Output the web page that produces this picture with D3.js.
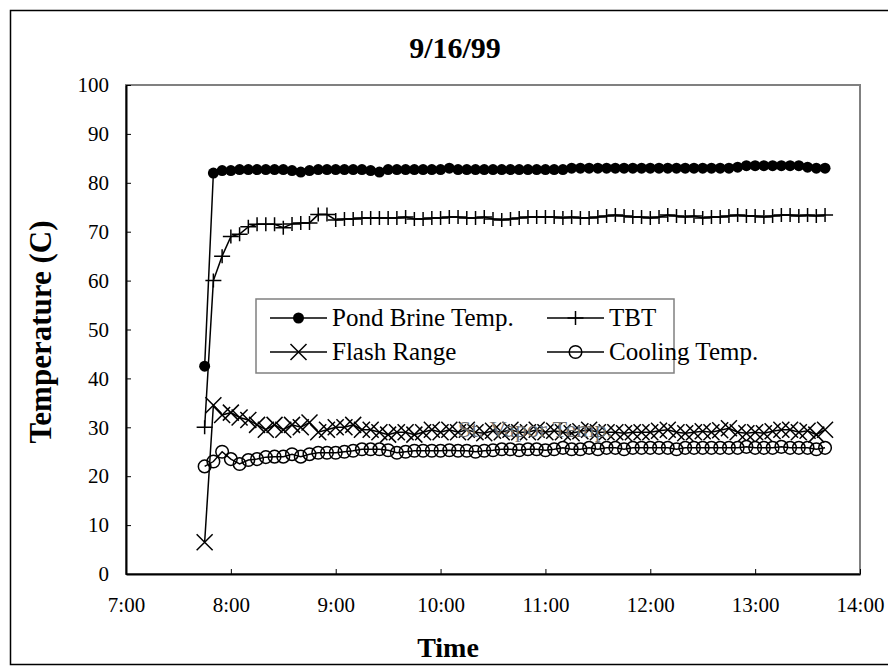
<!DOCTYPE html>
<html>
<head>
<meta charset="utf-8">
<script src="https://cdn.jsdelivr.net/npm/d3@7"></script>
<style>
  body { margin: 0; background: #fff; }
  svg text { font-family: "Liberation Serif", "Times New Roman", serif; fill: #000; }
</style>
</head>
<body>
<svg class="chart" width="888" height="671"></svg>
<script>
// ---- Data ----
const times = [
  "7:45","7:50","7:55","8:00","8:05","8:10","8:15","8:20","8:25","8:30","8:35","8:40",
  "8:45","8:50","8:55","9:00","9:05","9:10","9:15","9:20","9:25","9:30","9:35","9:40",
  "9:45","9:50","9:55","10:00","10:05","10:10","10:15","10:20","10:25","10:30","10:35","10:40",
  "10:45","10:50","10:55","11:00","11:05","11:10","11:15","11:20","11:25","11:30","11:35","11:40",
  "11:45","11:50","11:55","12:00","12:05","12:10","12:15","12:20","12:25","12:30","12:35","12:40",
  "12:45","12:50","12:55","13:00","13:05","13:10","13:15","13:20","13:25","13:30","13:35","13:40"
];
const pondBrine = [
  42.5,82,82.5,82.5,82.7,82.7,82.7,82.7,82.7,82.7,82.5,82.2,
  82.5,82.7,82.7,82.7,82.7,82.7,82.7,82.5,82.2,82.7,82.7,82.7,
  82.7,82.7,82.7,82.7,83,82.7,82.7,82.7,82.7,82.7,82.7,82.7,
  82.7,82.7,82.7,82.7,82.7,82.7,83,83,83,83,83,83,
  83,83,83,83,83,83,83,83,83,83,83,83,
  83,83.2,83.5,83.5,83.5,83.5,83.5,83.5,83.5,83.2,83,83
];
const tbt = [
  30,60,65,69,69.5,71,71.5,71.5,71.5,70.8,71.6,71.8,
  71.8,73.5,73.5,72.4,72.6,72.6,72.8,72.8,72.8,72.8,72.8,73,
  72.6,72.6,72.8,72.8,73,73,72.8,72.8,73,72.6,72.4,72.6,
  72.8,73,73,73,73,72.8,73,72.8,72.8,73,73.2,73.4,
  73.2,73,73,72.8,73,73.4,73.2,73,73.2,72.8,73,73,
  73.2,73.4,73.2,73.2,73,73.2,73.4,73.4,73.2,73.4,73.2,73.4
];
const flashRange = [
  6.5,34.5,32.5,33,32,31.5,30.5,29.5,30.5,29.5,30.5,30,
  31,29,29.5,30,30,30.5,29.5,29.5,29,28.5,29,29,
  28.5,29,29.5,29,29.5,29,29.5,29,28.8,29.3,29,29.5,
  29,29,29.5,29,29.3,29,28.8,29.2,29.5,29,29,29,
  28.8,29,29,29,29.3,29.5,29,28.8,29,29.2,29,29.4,
  29.8,29,28.8,29,28.8,29.2,29.5,29.5,29,29.3,28.5,29.5
];
const cooling = [
  22,23,25,23.5,22.5,23.3,23.5,23.9,24,24,24.5,24,
  24.5,24.8,24.8,24.8,25,25.2,25.5,25.5,25.5,25.3,24.8,25,
  25.2,25.2,25.2,25.2,25.3,25.2,25.2,25,25.2,25.3,25.5,25.5,
  25.3,25.5,25.5,25.3,25.5,25.8,25.5,25.5,25.8,25.5,25.8,25.8,
  25.5,25.8,25.8,25.8,25.8,25.8,25.5,25.8,25.8,25.8,25.8,25.8,
  25.8,25.8,26,25.8,25.8,25.8,26,25.8,25.8,25.8,25.5,25.8
];
const xTickLabels = ["7:00","8:00","9:00","10:00","11:00","12:00","13:00","14:00"];
const yTicks = [0,10,20,30,40,50,60,70,80,90,100];

const series = [
  {name: "Pond Brine Temp.", values: pondBrine, marker: "dot"},
  {name: "TBT", values: tbt, marker: "plus"},
  {name: "Flash Range", values: flashRange, marker: "cross"},
  {name: "Cooling Temp.", values: cooling, marker: "circle"}
];

// ---- Layout ----
const svg = d3.select("svg.chart");
const plot = {left: 126, top: 85, right: 860, bottom: 574};
const toMin = s => { const [h, m] = s.split(":").map(Number); return h * 60 + m; };

const x = d3.scaleLinear().domain([toMin("7:00"), toMin("14:00")]).range([plot.left, plot.right]);
const y = d3.scaleLinear().domain([0, 100]).range([plot.bottom, plot.top]);

// chart frame
svg.append("rect")
    .attr("x", 10.5).attr("y", 10.5)
    .attr("width", 900).attr("height", 654)
    .attr("fill", "none").attr("stroke", "#000").attr("stroke-width", 1.5);

// plot area border (grey)
svg.append("rect")
    .attr("x", plot.left).attr("y", plot.top)
    .attr("width", plot.right - plot.left).attr("height", plot.bottom - plot.top)
    .attr("fill", "none").attr("stroke", "#808080").attr("stroke-width", 2);

svg.append("text")
    .attr("x", 455).attr("y", 58)
    .attr("text-anchor", "middle")
    .attr("font-size", 30).attr("font-weight", "bold")
    .text("9/16/99");

// axes, ticks point inward
const yAxis = svg.append("g")
    .attr("transform", `translate(${plot.left},0)`)
    .call(d3.axisLeft(y).tickValues(yTicks).tickSizeInner(-5).tickSizeOuter(0).tickPadding(17));
const xAxis = svg.append("g")
    .attr("transform", `translate(0,${plot.bottom})`)
    .call(d3.axisBottom(x)
        .tickValues(xTickLabels.map(toMin))
        .tickFormat((d, i) => xTickLabels[i])
        .tickSizeInner(-5).tickSizeOuter(0).tickPadding(23));
[yAxis, xAxis].forEach(a => {
    a.attr("font-family", null);
    a.select(".domain").attr("stroke", "#000").attr("stroke-width", 2);
    a.selectAll(".tick line").attr("stroke", "#000").attr("stroke-width", 1);
    a.selectAll(".tick text").attr("font-size", 21);
});

svg.append("text")
    .attr("x", 448).attr("y", 657)
    .attr("text-anchor", "middle")
    .attr("font-size", 28).attr("font-weight", "bold")
    .text("Time");
svg.append("text")
    .attr("transform", "translate(51,332) rotate(-90)")
    .attr("text-anchor", "middle")
    .attr("font-size", 31).attr("font-weight", "bold")
    .text("Temperature (C)");

// ---- Markers ----
function drawMarker(g, kind) {
    if (kind === "dot")
        g.append("circle").attr("r", 5.5).attr("fill", "#000");
    else if (kind === "circle")
        g.append("circle").attr("r", 6.3).attr("fill", "none").attr("stroke", "#000").attr("stroke-width", 1.5);
    else if (kind === "plus")
        g.append("path").attr("d", "M-8,0H8M0,-7V7").attr("stroke", "#000").attr("stroke-width", 1.5);
    else if (kind === "cross")
        g.append("path").attr("d", "M-8,-8L8,8M-8,8L8,-8").attr("stroke", "#000").attr("stroke-width", 1.5);
}

const line = d3.line()
    .x((d, i) => x(toMin(times[i])))
    .y(d => y(d));

series.forEach(s => {
    const g = svg.append("g").classed("series", true);
    g.append("path")
        .attr("d", line(s.values))
        .attr("fill", "none").attr("stroke", "#000").attr("stroke-width", 1.5);
    g.selectAll("g.mark")
        .data(s.values)
        .enter().append("g")
        .classed("mark", true)
        .attr("transform", (d, i) => `translate(${x(toMin(times[i]))},${y(d)})`)
        .each(function () { drawMarker(d3.select(this), s.marker); });
});

// stray legend label left in the original workbook, sits over the data
svg.append("text")
    .attr("x", 458).attr("y", 437)
    .attr("font-size", 24)
    .style("fill", "#6e6e6e")
    .text("St. Vapor Temp.");

// ---- Legend ----
const legend = svg.append("g").attr("transform", "translate(256,299)");
legend.append("rect")
    .attr("width", 418).attr("height", 74)
    .attr("fill", "#fff").attr("stroke", "#808080").attr("stroke-width", 1.5);
const legendPos = [[14, 19], [291, 19], [14, 53], [291, 53]];
series.forEach((s, i) => {
    const [lx, ly] = legendPos[i];
    const item = legend.append("g").attr("transform", `translate(${lx},${ly})`);
    item.append("line").attr("x1", 0).attr("x2", 57).attr("stroke", "#000").attr("stroke-width", 1.5);
    drawMarker(item.append("g").attr("transform", "translate(28.5,0)"), s.marker);
    item.append("text")
        .attr("x", 62).attr("y", 8)
        .attr("font-size", 25)
        .text(s.name);
});
</script>
</body>
</html>
